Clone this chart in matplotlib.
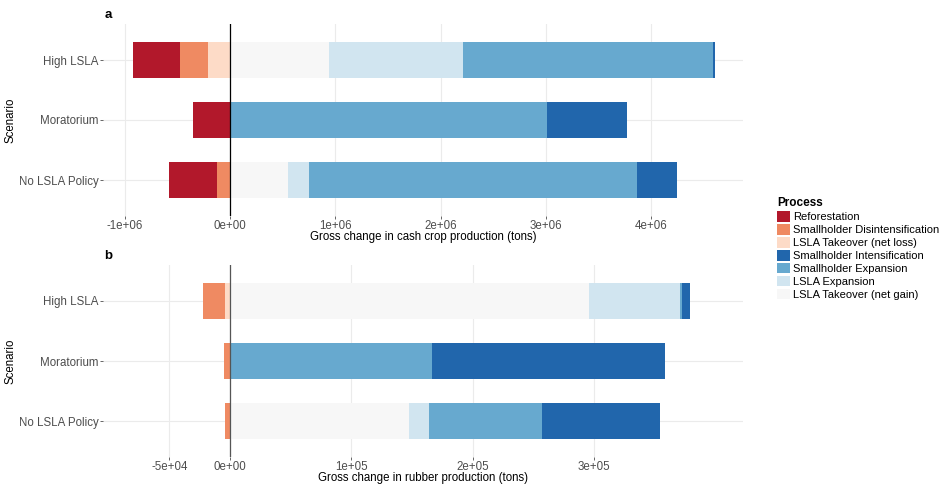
import numpy as np
import matplotlib
matplotlib.use("Agg")
import matplotlib.pyplot as plt
from matplotlib.patches import Patch

plt.rcParams['font.family'] = ['Liberation Sans', 'DejaVu Sans']

scenarios = ["High LSLA", "Moratorium", "No LSLA Policy"]
processes = ["Reforestation", "Smallholder Disintensification", "LSLA Takeover (net loss)",
             "Smallholder Intensification", "Smallholder Expansion", "LSLA Expansion",
             "LSLA Takeover (net gain)"]
colors = ["#B2182B", "#EF8A62", "#FDDBC7", "#2166AC", "#67A9CF", "#D1E5F0", "#F7F7F7"]

# cash crop production change (tons), one list per process, order = scenarios
cash_reforestation = [-449000, -348000, -459000]
cash_sh_disint = [-266000, 0, -123000]
cash_lsla_loss = [-209000, 0, 0]
cash_sh_intens = [19000, 766000, 383000]
cash_sh_expansion = [2365000, 3007000, 3115000]
cash_lsla_expansion = [1273000, 0, 199000]
cash_lsla_gain = [943000, 0, 548000]

# rubber production change (tons)
rub_reforestation = [0, 0, 0]
rub_sh_disint = [-18100, -5200, -4400]
rub_lsla_loss = [-4400, 0, 0]
rub_sh_intens = [6300, 191800, 97800]
rub_sh_expansion = [1600, 166500, 92700]
rub_lsla_expansion = [75000, 0, 17000]
rub_lsla_gain = [296000, 0, 147300]

cash = [cash_reforestation, cash_sh_disint, cash_lsla_loss, cash_sh_intens,
        cash_sh_expansion, cash_lsla_expansion, cash_lsla_gain]
rubber = [rub_reforestation, rub_sh_disint, rub_lsla_loss, rub_sh_intens,
          rub_sh_expansion, rub_lsla_expansion, rub_lsla_gain]

W, H = 949, 486
fig = plt.figure(figsize=(W / 100, H / 100), dpi=100)


def draw_panel(ax, data, xlim, ticks, ticklabels, xlabel, letter, zero_color):
    ypos = np.array([2, 1, 0])
    pos = np.zeros(3)
    neg = np.zeros(3)
    # stack from the last process (closest to zero) outward
    for vals, col in zip(reversed(data), reversed(colors)):
        vals = np.array(vals, dtype=float)
        left = np.where(vals >= 0, pos, neg + vals)
        ax.barh(ypos, np.abs(vals), left=left, height=0.6, color=col,
                edgecolor='none', zorder=2)
        pos = pos + np.where(vals > 0, vals, 0)
        neg = neg + np.where(vals < 0, vals, 0)
    ax.axvline(0, color=zero_color, lw=0.9, zorder=3)
    ax.set_xlim(*xlim)
    ax.set_ylim(-0.6, 2.6)
    ax.set_yticks(ypos)
    ax.set_yticklabels(scenarios)
    ax.set_xticks(ticks)
    ax.set_xticklabels(ticklabels)
    ax.tick_params(axis='both', length=2, width=0.6, color='#4D4D4D',
                   labelcolor='#4D4D4D', labelsize=8.3, pad=1)
    for s in ax.spines.values():
        s.set_visible(False)
    ax.grid(True, color='#EBEBEB', lw=0.8, zorder=0)
    ax.set_axisbelow(True)
    ax.set_xlabel(xlabel, fontsize=8.3)
    ax.xaxis.set_label_coords(0.5, -15 / 192)
    ax.set_ylabel("Scenario", fontsize=8.3)
    ax.yaxis.set_label_coords(-86 / 640, 0.5)
    ax.text(5 / 640, 1 + 9 / 192, letter, transform=ax.transAxes, fontsize=9.5,
            fontweight='bold', ha='center', va='center')


ax1 = fig.add_axes([103 / W, (H - 216) / H, 640 / W, 192 / H])
draw_panel(ax1, cash, (-1.206e6, 4.87e6), [-1e6, 0, 1e6, 2e6, 3e6, 4e6],
           ["-1e+06", "0e+00", "1e+06", "2e+06", "3e+06", "4e+06"],
           "Gross change in cash crop production (tons)", "a", "black")

ax2 = fig.add_axes([103 / W, (H - 457) / H, 640 / W, 192 / H])
draw_panel(ax2, rubber, (-1.047e5, 4.229e5), [-5e4, 0, 1e5, 2e5, 3e5],
           ["-5e+04", "0e+00", "1e+05", "2e+05", "3e+05"],
           "Gross change in rubber production (tons)", "b", "#555555")

handles = [Patch(facecolor=c, edgecolor='none') for c in colors]
fig.legend(handles, processes, title="Process", loc='upper left',
           bbox_to_anchor=(773 / W, 1 - 193 / H), frameon=False, fontsize=8,
           title_fontproperties={'weight': 'bold', 'size': 8.5},
           handlelength=1.1, handleheight=1.1, handletextpad=0.3,
           labelspacing=0.16, borderaxespad=0, alignment='left')

fig.savefig("out.png", dpi=100)
